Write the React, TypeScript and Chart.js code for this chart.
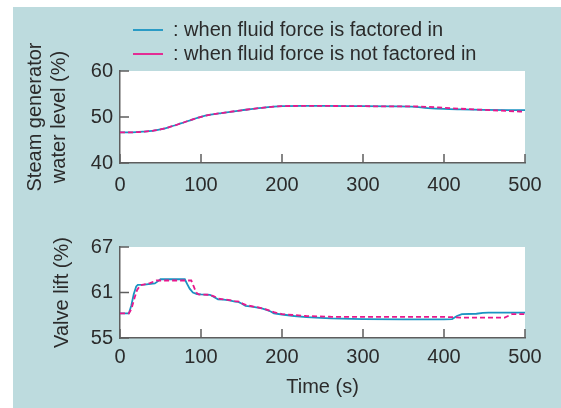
import React, { useEffect, useRef } from "react";
import { Chart, registerables } from "chart.js";

Chart.register(...registerables);

// ---------- data ----------
const seriesLabels = [
  ": when fluid force is factored in",
  ": when fluid force is not factored in",
];

const timeTicks = [0, 100, 200, 300, 400, 500];
const levelTicks = [40, 50, 60];
const valveTicks = [55, 61, 67];

const levelTime = [0, 10, 20, 28, 40, 50, 60, 75, 90, 100, 112, 125, 150, 175, 200, 225, 250, 300, 340, 360, 380, 400, 420, 450, 480, 500];
const levelWithForce = [46.65, 46.65, 46.7, 46.8, 47.0, 47.3, 47.75, 48.6, 49.5, 50.05, 50.5, 50.85, 51.45, 52.0, 52.35, 52.4, 52.4, 52.35, 52.3, 52.25, 51.95, 51.75, 51.65, 51.55, 51.5, 51.5];
const levelWithoutForce = [46.65, 46.65, 46.7, 46.8, 47.0, 47.3, 47.75, 48.6, 49.5, 50.05, 50.5, 50.85, 51.45, 52.0, 52.35, 52.4, 52.4, 52.35, 52.3, 52.3, 52.2, 52.0, 51.8, 51.55, 51.3, 51.15];

const valveTimeWithForce = [0, 11, 14, 17, 20, 22, 30, 43, 47, 50, 80, 83, 86, 90, 95, 100, 111, 116, 121, 128, 135, 142, 146, 150, 155, 163, 170, 175, 181, 186, 190, 200, 215, 230, 260, 300, 350, 400, 410, 416, 422, 440, 448, 455, 500];
const valveWithForce = [58.25, 58.25, 59.3, 60.8, 61.8, 62.0, 62.05, 62.2, 62.5, 62.75, 62.75, 62.1, 61.5, 61.0, 60.8, 60.75, 60.7, 60.4, 60.1, 60.05, 59.95, 59.8, 59.75, 59.55, 59.25, 59.15, 59.0, 58.9, 58.7, 58.5, 58.25, 58.1, 57.9, 57.75, 57.6, 57.5, 57.45, 57.45, 57.5, 57.9, 58.15, 58.2, 58.3, 58.35, 58.35];

const valveTimeWithoutForce = [0, 11, 14, 18, 21, 25, 37, 45, 88, 91, 94, 97, 100, 111, 116, 121, 128, 135, 142, 148, 152, 157, 165, 172, 181, 190, 200, 230, 260, 300, 400, 410, 420, 475, 484, 500];
const valveWithoutForce = [58.25, 58.25, 58.8, 60.3, 61.3, 61.95, 62.25, 62.58, 62.58, 61.8, 61.0, 60.75, 60.72, 60.7, 60.5, 60.2, 60.1, 60.0, 59.85, 59.8, 59.5, 59.3, 59.15, 59.0, 58.75, 58.4, 58.15, 57.9, 57.8, 57.78, 57.78, 57.75, 57.7, 57.7, 58.15, 58.15];

// ---------- style ----------
const FONT = "'Liberation Sans', Arial, Helvetica, sans-serif";
const TEXT = "#2b2b2b";
const AXIS = "#5e5e5e";
const BLUE = "#1a93c2";
const PINK = "#e8188c";
const PANEL = "#bddbde";

const toPoints = (xs: number[], ys: number[]) => xs.map((x, i) => ({ x, y: ys[i] }));

const plotBackground = {
  id: "plotBackground",
  beforeDraw(chart: any) {
    const { ctx, chartArea: a } = chart;
    ctx.save();
    ctx.fillStyle = "#ffffff";
    ctx.fillRect(a.left, a.top, a.right - a.left, a.bottom - a.top);
    ctx.restore();
  },
};

const inwardTicks = {
  id: "inwardTicks",
  afterDatasetsDraw(chart: any) {
    const { ctx, chartArea: a, scales } = chart;
    const xs = scales.x;
    const ys = scales.y;
    ctx.save();
    ctx.strokeStyle = AXIS;
    ctx.lineWidth = 1.5;
    ctx.beginPath();
    xs.ticks.forEach((t: any) => {
      const px = xs.getPixelForValue(t.value);
      ctx.moveTo(px, a.bottom);
      ctx.lineTo(px, a.bottom - 9);
    });
    ys.ticks.forEach((t: any) => {
      const py = ys.getPixelForValue(t.value);
      ctx.moveTo(a.left, py);
      ctx.lineTo(a.left + 9, py);
    });
    ctx.stroke();
    ctx.restore();
  },
};

const legendPlace = {
  id: "legendPlace",
  afterLayout(chart: any) {
    const lg = chart.legend;
    if (lg) {
      lg.left = chart.chartArea.left + 9;
      lg.top += 3;
    }
  },
};

function buildOptions(cfg: {
  yMin: number;
  yMax: number;
  yTicks: number[];
  yTitle: string | string[];
  yTitlePad: number;
  xLabelPad: number;
  xHeight: number;
  xTitle?: string;
  legend: boolean;
  padding: any;
}) {
  return {
    responsive: false,
    animation: false as const,
    layout: { padding: cfg.padding },
    elements: { point: { radius: 0 } },
    plugins: {
      tooltip: { enabled: false },
      legend: {
        display: cfg.legend,
        position: "top" as const,
        align: "start" as const,
        fullSize: false,
        labels: {
          usePointStyle: true,
          pointStyle: "line",
          pointStyleWidth: 30,
          padding: 4,
          color: TEXT,
          font: { family: FONT, size: 20 },
          sort: (a: any, b: any) => a.datasetIndex - b.datasetIndex,
        },
      },
    },
    scales: {
      x: {
        type: "linear" as const,
        min: 0,
        max: 500,
        afterBuildTicks: (s: any) => {
          s.ticks = timeTicks.map((v) => ({ value: v }));
        },
        afterFit: (s: any) => {
          s.height = cfg.xHeight;
        },
        grid: { display: false, drawTicks: false },
        border: { display: true, color: AXIS, width: 1.5 },
        ticks: {
          padding: cfg.xLabelPad,
          color: TEXT,
          maxRotation: 0,
          autoSkip: false,
          font: { family: FONT, size: 20 },
        },
        title: {
          display: !!cfg.xTitle,
          text: cfg.xTitle || "",
          color: TEXT,
          font: { family: FONT, size: 20 },
          padding: { top: 0, bottom: 9 },
        },
      },
      y: {
        type: "linear" as const,
        min: cfg.yMin,
        max: cfg.yMax,
        afterBuildTicks: (s: any) => {
          s.ticks = cfg.yTicks.map((v) => ({ value: v }));
        },
        afterFit: (s: any) => {
          s.width = 107;
        },
        grid: { display: false, drawTicks: false },
        border: { display: true, color: AXIS, width: 1.5 },
        ticks: {
          padding: 7,
          color: TEXT,
          font: { family: FONT, size: 20 },
        },
        title: {
          display: true,
          text: cfg.yTitle,
          color: TEXT,
          font: { family: FONT, size: 20 },
          padding: { top: cfg.yTitlePad, bottom: 0 },
        },
      },
    },
  };
}

function makeDatasets(
  tA: number[],
  a: number[],
  tB: number[],
  b: number[],
  smooth: boolean
) {
  return [
    {
      label: seriesLabels[0],
      data: toPoints(tA, a),
      borderColor: BLUE,
      backgroundColor: BLUE,
      borderWidth: 1.8,
      pointStyle: "line",
      cubicInterpolationMode: smooth ? ("monotone" as const) : ("default" as const),
      tension: 0,
      order: 1,
    },
    {
      label: seriesLabels[1],
      data: toPoints(tB, b),
      borderColor: PINK,
      backgroundColor: PINK,
      borderWidth: 1.8,
      borderDash: [5, 3],
      pointStyle: "line",
      cubicInterpolationMode: smooth ? ("monotone" as const) : ("default" as const),
      tension: 0,
      order: 0,
    },
  ];
}

export default function App() {
  const topRef = useRef<HTMLCanvasElement | null>(null);
  const bottomRef = useRef<HTMLCanvasElement | null>(null);

  useEffect(() => {
    const top = new Chart(topRef.current as HTMLCanvasElement, {
      type: "line",
      data: {
        datasets: makeDatasets(levelTime, levelWithForce, levelTime, levelWithoutForce, true) as any,
      },
      options: buildOptions({
        yMin: 40,
        yMax: 60,
        yTicks: levelTicks,
        yTitle: ["Steam generator", "water level (%)"],
        yTitlePad: 10,
        xLabelPad: 10,
        xHeight: 37,
        legend: true,
        padding: { left: 13, right: 36, top: 13, bottom: 0 },
      }) as any,
      plugins: [plotBackground, inwardTicks, legendPlace],
    });

    const bottom = new Chart(bottomRef.current as HTMLCanvasElement, {
      type: "line",
      data: {
        datasets: makeDatasets(
          valveTimeWithForce,
          valveWithForce,
          valveTimeWithoutForce,
          valveWithoutForce,
          false
        ) as any,
      },
      options: buildOptions({
        yMin: 55,
        yMax: 67,
        yTicks: valveTicks,
        yTitle: "Valve lift (%)",
        yTitlePad: 37,
        xLabelPad: 7,
        xHeight: 70,
        xTitle: "Time (s)",
        legend: false,
        padding: { left: 13, right: 36, top: 47, bottom: 0 },
      }) as any,
      plugins: [plotBackground, inwardTicks],
    });

    return () => {
      top.destroy();
      bottom.destroy();
    };
  }, []);

  return (
    <div
      style={{
        position: "absolute",
        left: 0,
        top: 0,
        width: 561,
        height: 408,
        background: "#ffffff",
        overflow: "hidden",
      }}
    >
      <div
        style={{
          position: "absolute",
          left: 13,
          top: 7,
          width: 548,
          height: 401,
          background: PANEL,
        }}
      />
      <canvas
        ref={topRef}
        width={561}
        height={200}
        style={{ position: "absolute", left: 0, top: 0, width: 561, height: 200 }}
      />
      <canvas
        ref={bottomRef}
        width={561}
        height={208}
        style={{ position: "absolute", left: 0, top: 200, width: 561, height: 208 }}
      />
    </div>
  );
}
